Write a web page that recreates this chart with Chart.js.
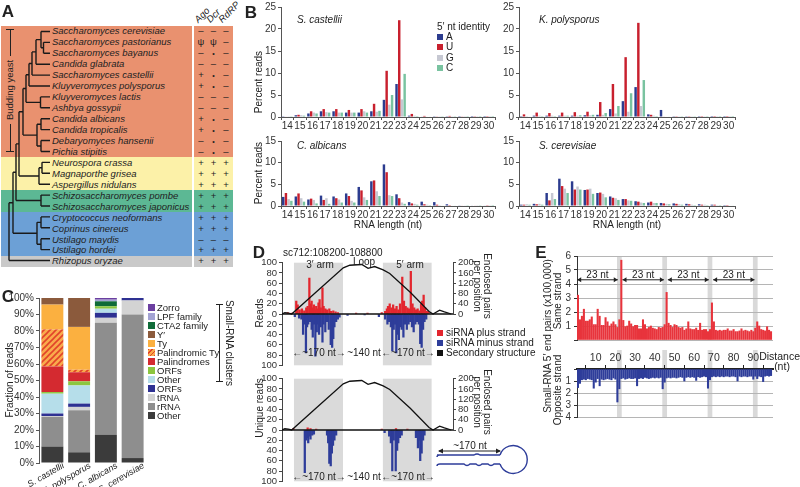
<!DOCTYPE html>
<html>
<head>
<meta charset="utf-8">
<script src="https://cdn.jsdelivr.net/npm/chart.js@4.4.0/dist/chart.umd.min.js"></script>
<style>
body { margin: 0; width: 800px; height: 487px; overflow: hidden; background: #fff; position: relative;
       font-family: 'Liberation Sans', Arial, sans-serif; color: #222; }
canvas { position: absolute; }
.t { position: absolute; white-space: nowrap; font-size: 10px; line-height: 1; }
.box { position: absolute; }
</style>
</head>
<body>
<script>
// ---------- data ----------
// panel A
const speciesA = ['Saccharomyces cerevisiae', 'Saccharomyces pastorianus', 'Saccharomyces bayanus', 'Candida glabrata',
  'Saccharomyces castellii', 'Kluyveromyces polysporus', 'Kluyveromyces lactis', 'Ashbya gossypii', 'Candida albicans',
  'Candida tropicalis', 'Debaryomyces hansenii', 'Pichia stipitis', 'Neurospora crassa', 'Magnaporthe grisea',
  'Aspergillus nidulans', 'Schizosaccharomyces pombe', 'Schizosaccharomyces japonicus', 'Cryptococcus neoformans',
  'Coprinus cinereus', 'Ustilago maydis', 'Ustilago hordei', 'Rhizopus oryzae'];
const agoCol  = ['–','ψ','–','–','+','+','–','–','+','+','–','–','+','+','+','+','+','+','+','–','+','+'];
const dcrCol  = ['–','ψ','•','–','•','•','–','–','•','•','•','•','+','+','+','+','+','+','+','–','+','+'];
const rdrpCol = ['–','–','–','–','–','–','–','–','–','–','–','–','+','+','+','+','+','+','+','–','+','+'];
const geneHeaders = ['Ago', 'Dcr', 'RdRP'];
const groupSizes = [12, 3, 2, 4, 1];
const groupColors = ['#E9916F', '#FCF1A8', '#5CB894', '#6CA0D6', '#C9C9C9'];
// tree: x = node depth, c = children (numbers are leaf rows)
const tree = {x: 9, c: [
  {x: 13, c: [
    {x: 16, c: [
      {x: 19, c: [
        {x: 23, c: [
          {x: 26, c: [
            {x: 29, c: [{x: 32, c: [{x: 36, c: [{x: 41, c: [0, {x: 43.5, c: [1, 2]}]}, 3]}, 4]}, 5]},
            {x: 40.5, c: [6, 7]}]},
          {x: 37, c: [{x: 41, c: [8, 9]}, {x: 41, c: [10, 11]}]}]},
        {x: 39, c: [{x: 42, c: [12, 13]}, 14]}]},
      {x: 41, c: [15, 16]}]},
    {x: 37, c: [{x: 41, c: [17, 18]}, {x: 41, c: [19, 20]}]}]},
  21]};

// panel B
const lenCats = ['14','15','16','17','18','19','20','21','22','23','24','25','26','27','28','29','30'];
const ntLabels = ['A', 'U', 'G', 'C'];
const ntColors = ['#2C3C8F', '#C8202E', '#C6C8D2', '#79C3A0'];
const castA = [0.05,0.4,0.8,1.3,1.3,1.0,1.0,1.3,3.9,7.5,0.3,0.1,0.05,0.05,0.03,0.02,0.02];
const castU = [0.1,0.5,1.3,1.8,1.8,1.6,1.8,3.0,10.5,22.0,0.7,0.25,0.15,0.25,0.08,0.05,0.03];
const castG = [0.05,0.4,1.0,1.1,1.0,1.0,1.3,1.2,2.8,4.0,0.3,0.1,0.05,0.05,0.03,0.02,0.02];
const castC = [0.05,0.3,0.8,1.0,1.0,1.0,1.0,1.4,5.0,9.8,0.2,0.1,0.05,0.05,0.03,0.02,0.02];
const polyA = [0.2,0.3,0.3,0.3,0.3,0.4,0.5,1.8,3.6,6.8,0.6,1.6,0.05,0.05,0.03,0.02,0.02];
const polyU = [0.6,1.0,0.9,1.0,1.1,1.2,3.4,7.5,13.6,21.4,0.5,0.1,0.05,0.05,0.03,0.02,0.02];
const polyG = [0.2,0.3,0.3,0.3,0.3,0.4,0.5,0.8,1.2,2.5,0.3,0.1,0.05,0.05,0.03,0.02,0.02];
const polyC = [0.1,0.2,0.2,0.3,0.4,0.5,0.9,2.5,5.4,8.4,0.2,0.1,0.05,0.05,0.03,0.02,0.02];
const albA = [2.1,2.2,1.5,2.4,2.2,2.9,4.4,5.7,9.6,2.7,0.9,1.0,0.9,0.4,0.15,0.1,0.1];
const albU = [3.0,2.9,1.7,1.4,1.8,2.3,3.6,5.9,7.8,1.8,0.6,0.4,0.3,0.2,0.1,0.1,0.05];
const albG = [1.6,1.8,1.4,1.8,1.5,1.2,2.0,3.4,2.5,0.8,0.5,0.3,0.2,0.1,0.08,0.05,0.05];
const albC = [1.2,1.0,0.6,0.5,0.8,0.8,1.4,2.3,2.3,0.5,0.3,0.2,0.1,0.1,0.05,0.05,0.03];
const cerA = [0.3,0.5,3.0,6.3,5.7,3.7,3.0,2.2,1.6,1.1,0.8,0.7,0.6,0.5,0.4,0.3,0.2];
const cerU = [0.3,0.4,1.3,4.6,3.8,3.8,3.1,1.9,1.6,1.0,1.0,0.6,0.5,0.4,0.3,0.3,0.2];
const cerG = [0.4,0.5,3.0,4.0,4.5,4.0,2.8,1.8,1.3,0.8,0.7,0.5,0.4,0.3,0.3,0.2,0.1];
const cerC = [0.3,0.3,1.6,3.0,3.8,2.8,2.0,1.4,1.2,0.7,0.7,0.4,0.3,0.2,0.2,0.2,0.1];

// panel C (stack order bottom -> top)
const speciesC = ['S. castellii', 'K. polysporus', 'C. albicans', 'S. cerevisiae'];
const classLabels = ['Other', 'rRNA', 'tRNA', 'ORFs', 'Other', 'ORFs', 'Palindromes', 'Palindromic Ty', 'Ty', 'Y′', 'CTA2 family', 'LPF family', 'Zorro'];
const classColors = ['#3B3B3B', '#8E8E8E', '#D3D3D3', '#2E3192', '#B6DEEA', '#8CC63F', '#D42A30', 'hatch', '#FBB040', '#8B5A3C', '#0F6B38', '#A3A3D3', '#6B3FA0'];
const otherDark  = [10, 6.5, 17, 3];
const rRNA       = [18, 25.5, 68, 87];
const tRNA       = [0.5, 2, 3, 8.5];
const orfsNavy   = [1.5, 2, 3, 1.5];
const otherLight = [12, 11, 2.5, 0];
const orfsGreen  = [1, 2.5, 1.5, 0];
const palindromes = [15.5, 5.5, 0, 0];
const palTy      = [22.5, 1.5, 0, 0];
const ty         = [15, 26, 0, 0];
const yPrime     = [4, 17.5, 0, 0];
const cta2       = [0, 0, 3, 0];
const lpf        = [0, 0, 1, 0];
const zorro      = [0, 0, 1, 0];

// panel D (position in nt, reads)
const armRanges = [[42, 214], [354, 525]];
const structPos   = [0, 10, 22, 34, 120, 215, 238, 264, 280, 302, 325, 355, 378, 450, 516, 530, 553, 570, 594];
const structPairs = [0, 5, 3, 0, 86, 180, 190, 192, 193, 178, 185, 172, 158, 85, 10, 0, 15, 8, 0];
const plusPos   = [20,35,50,55,62,70,78,85,90,96,100,104,108,112,116,120,124,128,132,136,142,146,152,158,166,172,180,188,196,260,300,
                   350,362,368,372,378,384,390,396,402,408,414,422,428,434,440,446,452,458,464,470,476,482,488,492,497,502,508,514];
const plusReads = [3,2,25,18,8,10,6,12,15,70,20,25,12,18,8,15,10,22,28,12,51,15,10,8,10,5,6,4,3,2,2,
                   3,5,10,15,20,12,18,10,15,8,20,72,25,15,12,10,83,20,12,8,10,6,20,25,37,12,5,4];
const minusPos   = [45,60,68,74,78,82,84,88,92,98,104,108,112,117,122,126,130,136,142,146,152,158,164,171,176,180,184,190,196,202,230,290,340,
                    362,370,376,382,387,392,396,401,406,410,416,420,426,432,438,444,450,456,462,468,474,480,485,490,495,500,506];
const minusReads = [5,8,10,40,20,15,76,25,20,15,30,45,20,82,35,20,40,25,55,20,35,15,30,60,65,48,25,15,10,6,3,2,5,
                    10,20,15,25,72,30,20,76,40,50,25,30,45,20,30,20,15,25,35,20,15,20,58,65,30,15,10];
const uPlusPos   = [40, 90, 100, 120, 350, 400, 440];
const uPlusReads = [3, 4, 3, 2, 2, 3, 2];
const uMinusPos   = [80,84,88,92,96,100,106,112,158,162,166,171,175,179,184,190,360,376,382,387,392,399,404,408,414,420,470,477,482,485,490,495,500];
const uMinusReads = [83,20,15,25,12,18,10,8,10,25,65,70,45,30,20,10,5,12,25,80,20,80,40,25,15,10,15,35,20,60,45,20,10];

// panel E (distance 1..99, x100,000 pairs)
const sameStrand = [3.2,1.45,1.7,2.2,1.35,1.35,1.45,1.65,1.1,1.1,2.2,1.7,1.05,1.05,1.6,1.3,1.0,1.15,1.3,1.1,
  0.9,1.45,5.7,1.4,0.95,1.0,1.35,1.15,0.95,1.05,1.05,0.8,0.8,1.45,1.1,0.8,0.9,1.0,0.85,0.8,
  0.75,0.9,0.85,0.9,1.1,3.4,1.2,1.05,0.9,1.1,1.05,0.9,0.85,0.9,0.7,0.8,1.3,0.8,0.75,0.75,
  0.85,0.7,1.2,0.7,0.75,0.75,0.6,0.75,2.65,1.3,0.7,0.65,0.7,0.65,0.7,0.7,0.8,0.65,0.65,0.75,
  0.6,0.6,0.65,0.8,0.65,0.7,0.65,0.6,0.7,0.6,0.85,1.3,1.0,0.75,0.7,0.65,0.95,0.7,0.6];
const oppStrand = [1.55,1.2,0.9,0.85,0.9,0.8,0.85,0.9,1.6,1.1,0.8,1.4,0.85,0.9,0.85,0.8,0.85,0.9,0.75,0.85,
  2.75,1.65,0.8,0.75,0.85,0.8,0.75,0.8,0.8,0.75,1.4,0.8,0.75,0.8,0.7,0.75,0.8,0.75,0.7,0.75,
  0.7,0.75,0.7,1.65,1.1,0.75,0.7,0.75,0.7,0.7,0.75,0.7,0.65,0.7,1.0,0.7,0.65,0.7,0.65,0.7,
  0.95,0.65,0.7,0.65,0.6,0.65,1.6,0.9,0.65,0.6,0.65,0.6,0.65,0.6,0.65,0.6,0.6,0.65,0.6,0.6,
  0.65,1.0,0.6,0.65,0.6,0.6,0.65,0.6,0.6,0.85,0.6,0.8,0.6,0.65,1.05,0.6,0.55,0.6,0.55];
const bandCenters = [22, 45, 68, 91];
const arrowSpans = [[0.6, 21.2], [23.6, 44.6], [46.6, 67.4], [69.6, 90.6]];

// ---------- helpers ----------
Chart.defaults.font.family = "'Liberation Sans', Arial, sans-serif";
Chart.defaults.font.size = 10;
Chart.defaults.color = '#333';
Chart.defaults.animation = false;
Chart.defaults.responsive = false;
Chart.defaults.plugins.legend.display = false;
Chart.defaults.plugins.tooltip.enabled = false;

function mk(l, t, w, h) {
  const c = document.createElement('canvas');
  c.width = w; c.height = h;
  c.style.left = l + 'px'; c.style.top = t + 'px';
  document.body.appendChild(c);
  return c;
}
function txt(s, x, y, o = {}) {
  const d = document.createElement('div');
  d.className = 't';
  d.textContent = s;
  d.style.left = x + 'px'; d.style.top = y + 'px';
  if (o.size) d.style.fontSize = o.size + 'px';
  if (o.it) d.style.fontStyle = 'italic';
  if (o.bold) d.style.fontWeight = 'bold';
  if (o.color) d.style.color = o.color;
  const ax = o.align === 'left' ? '0' : o.align === 'right' ? '-100%' : '-50%';
  if (o.origin) d.style.transformOrigin = o.origin;
  d.style.transform = `translate(${ax},-50%) rotate(${o.rot || 0}deg)`;
  document.body.appendChild(d);
  return d;
}
function box(l, t, w, h, css) {
  const d = document.createElement('div');
  d.className = 'box';
  d.style.left = l + 'px'; d.style.top = t + 'px'; d.style.width = w + 'px'; d.style.height = h + 'px';
  Object.assign(d.style, css);
  document.body.appendChild(d);
  return d;
}

// ---------- panel A ----------
const rowH = 10.95, rowTop = 26;
let start = 0;
groupSizes.forEach((n, g) => {
  box(1, rowTop + start * rowH, 191, n * rowH, {background: groupColors[g]});
  box(194, rowTop + start * rowH, 39, n * rowH, {background: groupColors[g]});
  start += n;
});
speciesA.forEach((s, i) => {
  const y = rowTop + (i + 0.5) * rowH;
  txt(s, 52, y, {align: 'left', it: true, size: 9.5});
  [agoCol, dcrCol, rdrpCol].forEach((col, j) => {
    txt(col[i], 201 + j * 12.5, y, {size: col[i] === '•' ? 7 : 9.5});
  });
});
geneHeaders.forEach((h, j) => {
  txt(h, 196 + j * 12, 21, {align: 'left', it: true, size: 9.5, rot: -45, origin: 'left center'});
});
// budding yeast bracket
box(9.5, 29, 1, 27, {background: '#222'});
box(9.5, 124, 1, 28, {background: '#222'});
box(6, 29, 8, 1, {background: '#222'});
box(6, 151, 8, 1, {background: '#222'});
txt('Budding yeast', 10, 90, {rot: -90, size: 9.5});

// tree drawn as line segments
const treeSegs = [];
const leafX = 50;
function layout(node) {
  if (typeof node === 'number') return {x: leafX, y: node};
  const kids = node.c.map(layout);
  const ys = kids.map(k => k.y);
  const y0 = Math.min(...ys), y1 = Math.max(...ys);
  treeSegs.push({x: node.x, y: y0}, {x: node.x, y: y1}, {x: node.x, y: null});
  kids.forEach(k => treeSegs.push({x: node.x, y: k.y}, {x: k.x, y: k.y}, {x: k.x, y: null}));
  return {x: node.x, y: (y0 + y1) / 2};
}
layout(tree);
new Chart(mk(0, rowTop, 52, 22 * rowH), {
  type: 'line',
  data: {datasets: [{data: treeSegs, borderColor: '#1a1a1a', borderWidth: 1.4, pointRadius: 0, clip: false, spanGaps: false}]},
  options: {
    devicePixelRatio: 1, layout: {padding: 0},
    scales: {
      x: {type: 'linear', min: 0, max: 52, display: false},
      y: {type: 'linear', min: -0.5, max: 21.5, reverse: true, display: false}
    }
  }
});

// ---------- panel B ----------
function lengthChart(rect, series, ymax, step) {
  const padL = 30, padT = 8, padR = 4, padB = 16;
  const cv = mk(rect.l - padL, rect.t - padT, rect.r - rect.l + padL + padR, rect.b - rect.t + padT + padB);
  new Chart(cv, {
    type: 'bar',
    data: {
      labels: lenCats,
      datasets: series.map((v, i) => ({label: ntLabels[i], data: v, backgroundColor: ntColors[i],
        categoryPercentage: 0.86, barPercentage: 0.9}))
    },
    options: {
      devicePixelRatio: 1,
      layout: {padding: {top: padT, right: padR, left: 0, bottom: 0}},
      scales: {
        x: {grid: {display: true, drawOnChartArea: false, offset: true, tickLength: 3, color: '#555'},
            border: {color: '#555'}, ticks: {padding: 0, maxRotation: 0, autoSkip: false, color: '#333'},
            afterFit: s => { s.height = padB; }},
        y: {min: 0, max: ymax, ticks: {stepSize: step, padding: 2, autoSkip: false, color: '#333'},
            grid: {drawOnChartArea: false, tickLength: 3, color: '#555'}, border: {color: '#555'},
            afterFit: s => { s.width = padL; }}
      }
    }
  });
}
lengthChart({l: 281, r: 495, t: 7, b: 117}, [castA, castU, castG, castC], 25, 5);
lengthChart({l: 519, r: 735, t: 7, b: 117}, [polyA, polyU, polyG, polyC], 25, 5);
lengthChart({l: 281, r: 495, t: 141, b: 206}, [albA, albU, albG, albC], 15, 5);
lengthChart({l: 519, r: 735, t: 141, b: 206}, [cerA, cerU, cerG, cerC], 15, 5);
txt('S. castellii', 297, 20, {align: 'left', it: true});
txt('K. polysporus', 539, 20, {align: 'left', it: true});
txt('C. albicans', 297, 146, {align: 'left', it: true});
txt('S. cerevisiae', 539, 146, {align: 'left', it: true});
txt('Percent reads', 259, 82, {rot: -90});
txt('Percent reads', 259, 173, {rot: -90});
txt('RNA length (nt)', 388, 225);
txt('RNA length (nt)', 627, 225);
txt('5′ nt identity', 437, 27, {align: 'left'});
ntLabels.forEach((n, i) => {
  box(437, 34 + i * 10.3, 6, 6, {background: ntColors[i]});
  txt(n, 446, 37 + i * 10.3, {align: 'left'});
});

// ---------- panel C ----------
const hatchCanvas = document.createElement('canvas');
hatchCanvas.width = 6; hatchCanvas.height = 6;
const hc = hatchCanvas.getContext('2d');
hc.fillStyle = '#F9AA4C'; hc.fillRect(0, 0, 6, 6);
hc.strokeStyle = '#E2432A'; hc.lineWidth = 1.6;
hc.beginPath(); hc.moveTo(-1, 7); hc.lineTo(7, -1); hc.moveTo(-1, 1); hc.lineTo(1, -1); hc.moveTo(5, 7); hc.lineTo(7, 5); hc.stroke();
const hatch = hc.createPattern(hatchCanvas, 'repeat');
const stackSeries = [otherDark, rRNA, tRNA, orfsNavy, otherLight, orfsGreen, palindromes, palTy, ty, yPrime, cta2, lpf, zorro];
new Chart(mk(0, 290, 160, 197), {
  type: 'bar',
  data: {
    labels: speciesC,
    datasets: stackSeries.map((v, i) => ({label: classLabels[i], data: v,
      backgroundColor: classColors[i] === 'hatch' ? hatch : classColors[i],
      categoryPercentage: 1, barPercentage: 0.82}))
  },
  options: {
    devicePixelRatio: 1,
    layout: {padding: {top: 7, right: 14, left: 0, bottom: 0}},
    scales: {
      x: {stacked: true, ticks: {display: false}, grid: {display: false}, border: {display: false},
          afterFit: s => { s.height = 24; }},
      y: {stacked: true, min: 0, max: 100, ticks: {stepSize: 10, padding: 2, autoSkip: false, callback: v => v + '%', color: '#333'},
          grid: {drawOnChartArea: false, tickLength: 3, color: '#555'}, border: {color: '#555'},
          afterFit: s => { s.width = 39; }}
    }
  },
  plugins: [{
    id: 'rotLabels',
    afterDraw(chart) {
      const ctx = chart.ctx, xs = chart.scales.x, bottom = chart.chartArea.bottom;
      ctx.save();
      ctx.font = "italic 9px 'Liberation Sans', Arial, sans-serif";
      ctx.fillStyle = '#222';
      ctx.textAlign = 'right';
      ctx.textBaseline = 'middle';
      speciesC.forEach((s, i) => {
        ctx.save();
        ctx.translate(xs.getPixelForValue(i) + 11, bottom + 2);
        ctx.rotate(-30 * Math.PI / 180);
        ctx.fillText(s, 0, 0);
        ctx.restore();
      });
      ctx.restore();
    }
  }]
});
txt('C', 8, 296, {bold: true, size: 17});
txt('Fraction of reads', 10, 380, {rot: -90});
classLabels.slice().reverse().forEach((lab, i) => {
  const col = classColors[classLabels.length - 1 - i];
  const css = col === 'hatch'
    ? {background: 'repeating-linear-gradient(-45deg,#E2432A 0 1.2px,#F9AA4C 1.2px 3px)'}
    : {background: col};
  box(148, 304 + i * 9, 7, 7, css);
  txt(lab, 157, 308 + i * 9, {align: 'left', size: 9.5});
});
box(219, 304, 1, 78, {background: '#222'});
box(216, 304, 7, 1, {background: '#222'});
box(216, 381, 7, 1, {background: '#222'});
txt('Small-RNA clusters', 229, 343, {rot: 90});

// ---------- panel D ----------
function readsChart(top, plusP, plusV, minusP, minusV) {
  const padT = 5, padB = 5, leftW = 24, rightW = 30;
  const areaH = 108;
  const cv = mk(282 - leftW, top - padT, 453 - 282 + leftW + rightW, areaH + padT + padB);
  new Chart(cv, {
    type: 'bar',
    data: {
      datasets: [
        {type: 'line', data: structPos.map((p, i) => ({x: p, y: structPairs[i]})), yAxisID: 'y2',
         borderColor: '#111', borderWidth: 1.3, pointRadius: 0, order: 0},
        {data: plusP.map((p, i) => ({x: p, y: plusV[i]})), backgroundColor: '#E3262E', barThickness: 1.6, grouped: false, order: 1},
        {data: minusP.map((p, i) => ({x: p, y: -minusV[i]})), backgroundColor: '#2E3D9A', barThickness: 1.6, grouped: false, order: 1}
      ]
    },
    options: {
      devicePixelRatio: 1,
      layout: {padding: {top: padT, bottom: padB, left: 0, right: 0}},
      scales: {
        x: {type: 'linear', min: 0, max: 600, offset: false, display: false},
        y: {min: -100, max: 100, ticks: {stepSize: 20, padding: 2, autoSkip: false, callback: v => Math.abs(v), color: '#333', font: {size: 9.5}},
            grid: {drawOnChartArea: false, tickLength: 3, color: '#444'}, border: {color: '#444'},
            afterFit: s => { s.width = leftW; }},
        y2: {position: 'right', min: -200, max: 200, ticks: {stepSize: 40, padding: 2, autoSkip: false, color: '#333', font: {size: 9.5}},
             afterBuildTicks: s => { s.ticks = s.ticks.filter(t => t.value >= 0); },
             grid: {drawOnChartArea: false, tickLength: 3, color: '#444'}, border: {display: false},
             afterFit: s => { s.width = rightW; }}
      }
    },
    plugins: [{
      id: 'arms',
      beforeDatasetsDraw(chart) {
        const {ctx, chartArea: a, scales: {x}} = chart;
        ctx.save();
        ctx.fillStyle = '#DADADA';
        armRanges.forEach(r => {
          const x0 = x.getPixelForValue(r[0]), x1 = x.getPixelForValue(r[1]);
          ctx.fillRect(x0, a.top, x1 - x0, a.bottom - a.top);
        });
        ctx.restore();
      },
      afterDatasetsDraw(chart) {
        const {ctx, chartArea: a, scales: {y, y2}} = chart;
        ctx.save();
        ctx.strokeStyle = '#111'; ctx.lineWidth = 1.6;
        ctx.beginPath();
        ctx.moveTo(a.left, y.getPixelForValue(0)); ctx.lineTo(a.right, y.getPixelForValue(0));
        ctx.stroke();
        ctx.lineWidth = 1; ctx.strokeStyle = '#444';
        ctx.beginPath();
        ctx.moveTo(y2.left + 0.5, y2.getPixelForValue(0)); ctx.lineTo(y2.left + 0.5, y2.getPixelForValue(200));
        ctx.stroke();
        ctx.restore();
      }
    }]
  });
}
readsChart(260, plusPos, plusReads, minusPos, minusReads);
readsChart(376, uPlusPos, uPlusReads, uMinusPos, uMinusReads);
txt('D', 259, 252, {bold: true, size: 17});
txt('sc712:108200-108800', 283, 253, {align: 'left'});
txt('3′ arm', 320, 265);
txt('Loop', 364, 262);
txt('5′ arm', 410, 265);
txt('Reads', 260, 313, {rot: -90});
txt('Unique reads', 260, 408, {rot: -90});
[[258, 'Enclosed pairs'], [374, 'Enclosed pairs']].forEach(([y, s]) => {
  txt(s, 487, y + 28, {rot: 90});
  txt('per position', 477, y + 28, {rot: 90});
});
[353, 477].forEach(y => {
  txt('←~170 nt→', 319, y);
  txt('~140 nt', 364, y);
  txt('←~170 nt→', 408, y);
});
[['siRNA plus strand', '#E3262E'], ['siRNA minus strand', '#2E3D9A'], ['Secondary structure', '#111']].forEach(([s, c], i) => {
  box(437, 330 + i * 10, 6, 6, {background: c});
  txt(s, 446, 333 + i * 10, {align: 'left'});
});
// hairpin sketch
const svgNS = 'http://www.w3.org/2000/svg';
const svg = document.createElementNS(svgNS, 'svg');
svg.setAttribute('width', '100'); svg.setAttribute('height', '40');
svg.style.position = 'absolute'; svg.style.left = '434px'; svg.style.top = '440px';
svg.innerHTML =
  '<path d="M6 15 Q3 15 3 17 M3 15 L40 15 Q43 13 46 15 L66 15" fill="none" stroke="#2E3D9A" stroke-width="1.4"/>' +
  '<path d="M3 26 Q3 24 6 24 L30 24 Q33 27 36 24 L42 24 Q45 27 48 24 L54 24 Q57 27 60 24 L66 24" fill="none" stroke="#2E3D9A" stroke-width="1.4"/>' +
  '<path d="M66 15 A14 14 0 1 1 66 24" fill="none" stroke="#2E3D9A" stroke-width="1.4"/>' +
  '<path d="M5 11 L66 11" stroke="#222" stroke-width="1"/>' +
  '<path d="M4 11 L9 8.5 L9 13.5 Z M67 11 L62 8.5 L62 13.5 Z" fill="#222"/>';
document.body.appendChild(svg);
txt('~170 nt', 470, 446);

// ---------- panel E ----------
const distLabels = sameStrand.map((_, i) => i + 1);
function bandPlugin(fromTop) {
  return {
    id: 'bands',
    beforeDraw(chart) {
      const {ctx, chartArea: a, scales: {x}} = chart;
      ctx.save();
      ctx.fillStyle = '#D9D9D9';
      bandCenters.forEach(c => {
        const x0 = x.getPixelForValue(c - 1.2), x1 = x.getPixelForValue(c + 1.2);
        const y0 = fromTop ? 0 : a.top;
        ctx.fillRect(x0, y0, x1 - x0, a.bottom - y0);
      });
      ctx.restore();
    }
  };
}
new Chart(mk(557, 247, 220, 102), {
  type: 'bar',
  data: {datasets: [{data: distLabels.map((d, i) => ({x: d, y: sameStrand[i]})), backgroundColor: '#E8343C', barThickness: 1.4}]},
  options: {
    devicePixelRatio: 1,
    layout: {padding: {top: 5, right: 4, bottom: 0, left: 0}},
    scales: {
      x: {type: 'linear', min: 0.5, max: 100, offset: false, display: false},
      y: {min: 0, max: 6, ticks: {stepSize: 1, padding: 3, autoSkip: false, color: '#333', callback: v => v === 0 ? '' : v},
          grid: {color: '#B5B5B5', tickColor: '#333', tickLength: 3}, border: {color: '#333'},
          afterFit: s => { s.width = 20; }}
    }
  },
  plugins: [bandPlugin(false), {
    id: 'arrows',
    afterDatasetsDraw(chart) {
      const {ctx, scales: {x, y}} = chart;
      const yy = y.getPixelForValue(4.3), ty = y.getPixelForValue(4.62);
      ctx.save();
      ctx.strokeStyle = '#222'; ctx.fillStyle = '#222'; ctx.lineWidth = 1;
      ctx.font = "10px 'Liberation Sans', Arial, sans-serif";
      ctx.textAlign = 'center'; ctx.textBaseline = 'middle';
      arrowSpans.forEach(([a, b]) => {
        const x0 = x.getPixelForValue(a), x1 = x.getPixelForValue(b);
        ctx.beginPath(); ctx.moveTo(x0, yy); ctx.lineTo(x1, yy); ctx.stroke();
        ctx.beginPath();
        ctx.moveTo(x0, yy); ctx.lineTo(x0 + 4, yy - 2.5); ctx.lineTo(x0 + 4, yy + 2.5); ctx.closePath();
        ctx.moveTo(x1, yy); ctx.lineTo(x1 - 4, yy - 2.5); ctx.lineTo(x1 - 4, yy + 2.5); ctx.closePath();
        ctx.fill();
        ctx.fillText('23 nt', (x0 + x1) / 2, ty);
      });
      ctx.restore();
    }
  }]
});
new Chart(mk(557, 350, 220, 76), {
  type: 'bar',
  data: {datasets: [{data: distLabels.map((d, i) => ({x: d, y: oppStrand[i]})), backgroundColor: '#2E3D9A', barThickness: 1.4}]},
  options: {
    devicePixelRatio: 1,
    layout: {padding: {top: 0, right: 4, bottom: 3, left: 0}},
    scales: {
      x: {type: 'linear', position: 'top', min: 0.5, max: 100, offset: false,
          ticks: {stepSize: 10, includeBounds: false, padding: 1, maxRotation: 0, autoSkip: false, color: '#333', font: {size: 10.5}},
          afterBuildTicks: s => { s.ticks = s.ticks.filter(t => t.value >= 10 && t.value <= 90); },
          grid: {drawOnChartArea: false, tickLength: 4, color: '#222'}, border: {color: '#222', width: 2},
          afterFit: s => { s.height = 19; }},
      y: {min: 0, max: 4, reverse: true, ticks: {stepSize: 1, padding: 3, autoSkip: false, color: '#333', callback: v => v === 0 ? '' : v},
          grid: {color: '#B5B5B5', tickColor: '#333', tickLength: 3}, border: {color: '#333'},
          afterFit: s => { s.width = 20; }}
    }
  },
  plugins: [bandPlugin(true)]
});
txt('E', 541, 252, {bold: true, size: 17});
txt('Distance', 800, 356, {align: 'right', size: 10.5});
txt('(nt)', 782, 366, {size: 10.5});
txt('Small-RNA 5′ end pairs (x100,000)', 548, 336, {rot: -90});
txt('Same strand', 558, 301, {rot: -90});
txt('Opposite strand', 558, 390, {rot: -90});
txt('A', 8, 11, {bold: true, size: 17});
txt('B', 251, 12, {bold: true, size: 17});
</script>
</body>
</html>
